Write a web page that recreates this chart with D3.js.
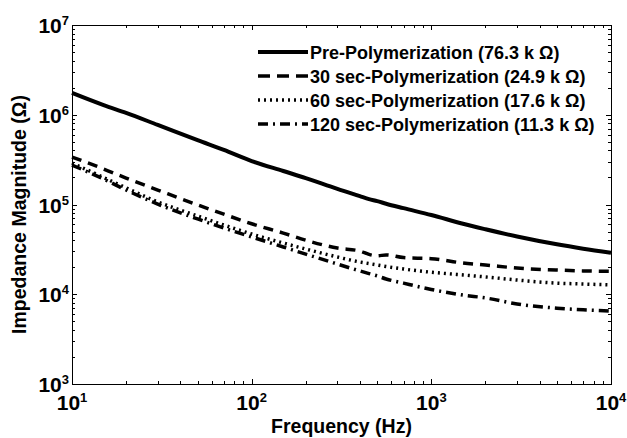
<!DOCTYPE html>
<meta charset="utf-8">
<style>
body { margin: 0; background: #fff; }
text { font-family: Arial, "Liberation Sans", sans-serif; font-weight: bold; fill: #000; }
.frame { fill: none; stroke: #000; stroke-width: 1px; shape-rendering: crispEdges; }
.tick { stroke: #000; stroke-width: 1px; shape-rendering: crispEdges; }
.line { fill: none; stroke: #000; }
</style>
<body>
<script src="https://d3js.org/d3.v7.min.js"></script>
<script>

//
// Data
//

var freq = [10, 15, 20, 30, 50, 70, 100, 150, 200, 300, 400, 450, 500, 560, 700, 1000, 1500, 2000, 3000, 5000, 7000, 10000];

var prePoly = [1.75e6, 1.28e6, 1.05e6, 7.7e5, 5.2e5, 4.05e5, 3.05e5, 2.36e5, 1.97e5, 1.49e5, 1.24e5, 1.15e5, 1.09e5, 1.02e5, 9.1e4, 7.63e4, 6.1e4, 5.3e4, 4.4e4, 3.6e4, 3.22e4, 2.9e4];
var sec30 = [3.38e5, 2.49e5, 1.97e5, 1.45e5, 9.9e4, 7.8e4, 6.1e4, 4.8e4, 4.0e4, 3.27e4, 3.03e4, 2.78e4, 2.68e4, 2.74e4, 2.56e4, 2.49e4, 2.23e4, 2.12e4, 1.96e4, 1.86e4, 1.82e4, 1.8e4];
var sec60 = [2.9e5, 2.0e5, 1.53e5, 1.07e5, 7.45e4, 5.9e4, 4.69e4, 3.72e4, 3.19e4, 2.6e4, 2.29e4, 2.2e4, 2.12e4, 2.04e4, 1.91e4, 1.76e4, 1.64e4, 1.56e4, 1.44e4, 1.33e4, 1.3e4, 1.27e4];
var sec120 = [2.75e5, 1.92e5, 1.45e5, 1.01e5, 6.9e4, 5.47e4, 4.35e4, 3.36e4, 2.8e4, 2.17e4, 1.82e4, 1.7e4, 1.6e4, 1.48e4, 1.33e4, 1.13e4, 9.8e3, 9.1e3, 7.8e3, 7.0e3, 6.7e3, 6.5e3];

var seriesNames = [
  "Pre-Polymerization (76.3 k \u03A9)",
  "30 sec-Polymerization (24.9 k \u03A9)",
  "60 sec-Polymerization (17.6 k \u03A9)",
  "120 sec-Polymerization (11.3 k \u03A9)"
];

var xTickExps = [1, 2, 3, 4];
var yTickExps = [3, 4, 5, 6, 7];

//
// Layout
//

var W = 627, H = 438;
var margin = {top: 25, right: 16, bottom: 54, left: 72};
var width = W - margin.left - margin.right;
var height = H - margin.top - margin.bottom;

var x = d3.scaleLog().domain([10, 1e4]).range([0, width]);
var y = d3.scaleLog().domain([1e3, 1e7]).range([height, 0]);

var svg = d3.select("body").append("svg")
    .attr("width", W)
    .attr("height", H);

var g = svg.append("g")
    .attr("transform", "translate(" + margin.left + "," + margin.top + ")");

// styles per series
var styles = [
  {dash: null, sw: 4},
  {dash: "10,7", sw: 3.5},
  {dash: "2,4", sw: 3.5},
  {dash: "10,5,2,5", sw: 3.5}
];

var allSeries = [prePoly, sec30, sec60, sec120];

var line = d3.line()
    .curve(d3.curveMonotoneX)
    .x(function(d) { return x(d[0]); })
    .y(function(d) { return y(d[1]); });

allSeries.forEach(function(vals, i) {
  var pts = freq.map(function(f, j) { return [f, vals[j]]; });
  g.append("path")
      .attr("class", "line")
      .attr("stroke-width", styles[i].sw)
      .attr("stroke-dasharray", styles[i].dash)
      .attr("d", line(pts));
});

//
// Axes box with inward ticks on all four sides
//

var xt = x.ticks(), yt = y.ticks();
function isMajor(v) { return Math.abs(Math.log10(v) - Math.round(Math.log10(v))) < 1e-9; }

xt.forEach(function(v) {
  var len = isMajor(v) ? 5 : 3;
  var px = Math.round(x(v)) + 0.5;
  g.append("line").attr("class", "tick").attr("x1", px).attr("x2", px).attr("y1", height).attr("y2", height - len);
  g.append("line").attr("class", "tick").attr("x1", px).attr("x2", px).attr("y1", 0).attr("y2", len);
});
yt.forEach(function(v) {
  var len = isMajor(v) ? 5 : 3;
  var py = Math.round(y(v)) + 0.5;
  g.append("line").attr("class", "tick").attr("x1", 0).attr("x2", len).attr("y1", py).attr("y2", py);
  g.append("line").attr("class", "tick").attr("x1", width).attr("x2", width - len).attr("y1", py).attr("y2", py);
});

g.append("rect")
    .attr("class", "frame")
    .attr("x", 0.5).attr("y", 0.5)
    .attr("width", width).attr("height", height);

// tick labels 10^n
xTickExps.forEach(function(e) {
  var t = g.append("text")
      .attr("x", x(Math.pow(10, e)))
      .attr("y", height + 26)
      .attr("text-anchor", "middle")
      .style("font-size", "21px");
  t.append("tspan").text("10");
  t.append("tspan").attr("dy", -8).style("font-size", "13px").text(e);
});

yTickExps.forEach(function(e) {
  var t = g.append("text")
      .attr("x", -3)
      .attr("y", y(Math.pow(10, e)) + 8)
      .attr("text-anchor", "end")
      .style("font-size", "21px");
  t.append("tspan").text("10");
  t.append("tspan").attr("dy", -8).style("font-size", "13px").text(e);
});

// axis titles
g.append("text")
    .attr("x", width / 2)
    .attr("y", height + 49)
    .attr("text-anchor", "middle")
    .style("font-size", "19.5px")
    .text("Frequency (Hz)");

g.append("text")
    .attr("transform", "translate(" + (-46) + "," + (height / 2 + 10) + ") rotate(-90)")
    .attr("text-anchor", "middle")
    .style("font-size", "19.5px")
    .text("Impedance Magnitude (\u03A9)");

//
// Legend
//

var legend = g.append("g")
    .attr("transform", "translate(" + (258 - margin.left) + "," + (52 - margin.top) + ")");

seriesNames.forEach(function(name, i) {
  var row = legend.append("g").attr("transform", "translate(0," + (i * 24) + ")");
  row.append("line")
      .attr("class", "line")
      .attr("x1", 0).attr("x2", 50)
      .attr("y1", 0).attr("y2", 0)
      .attr("stroke-width", styles[i].sw)
      .attr("stroke-dasharray", i === 1 ? "12,7" : styles[i].dash);
  row.append("text")
      .attr("x", 52)
      .attr("y", 6.5)
      .style("font-size", "18px")
      .text(name);
});

</script>
</body>
